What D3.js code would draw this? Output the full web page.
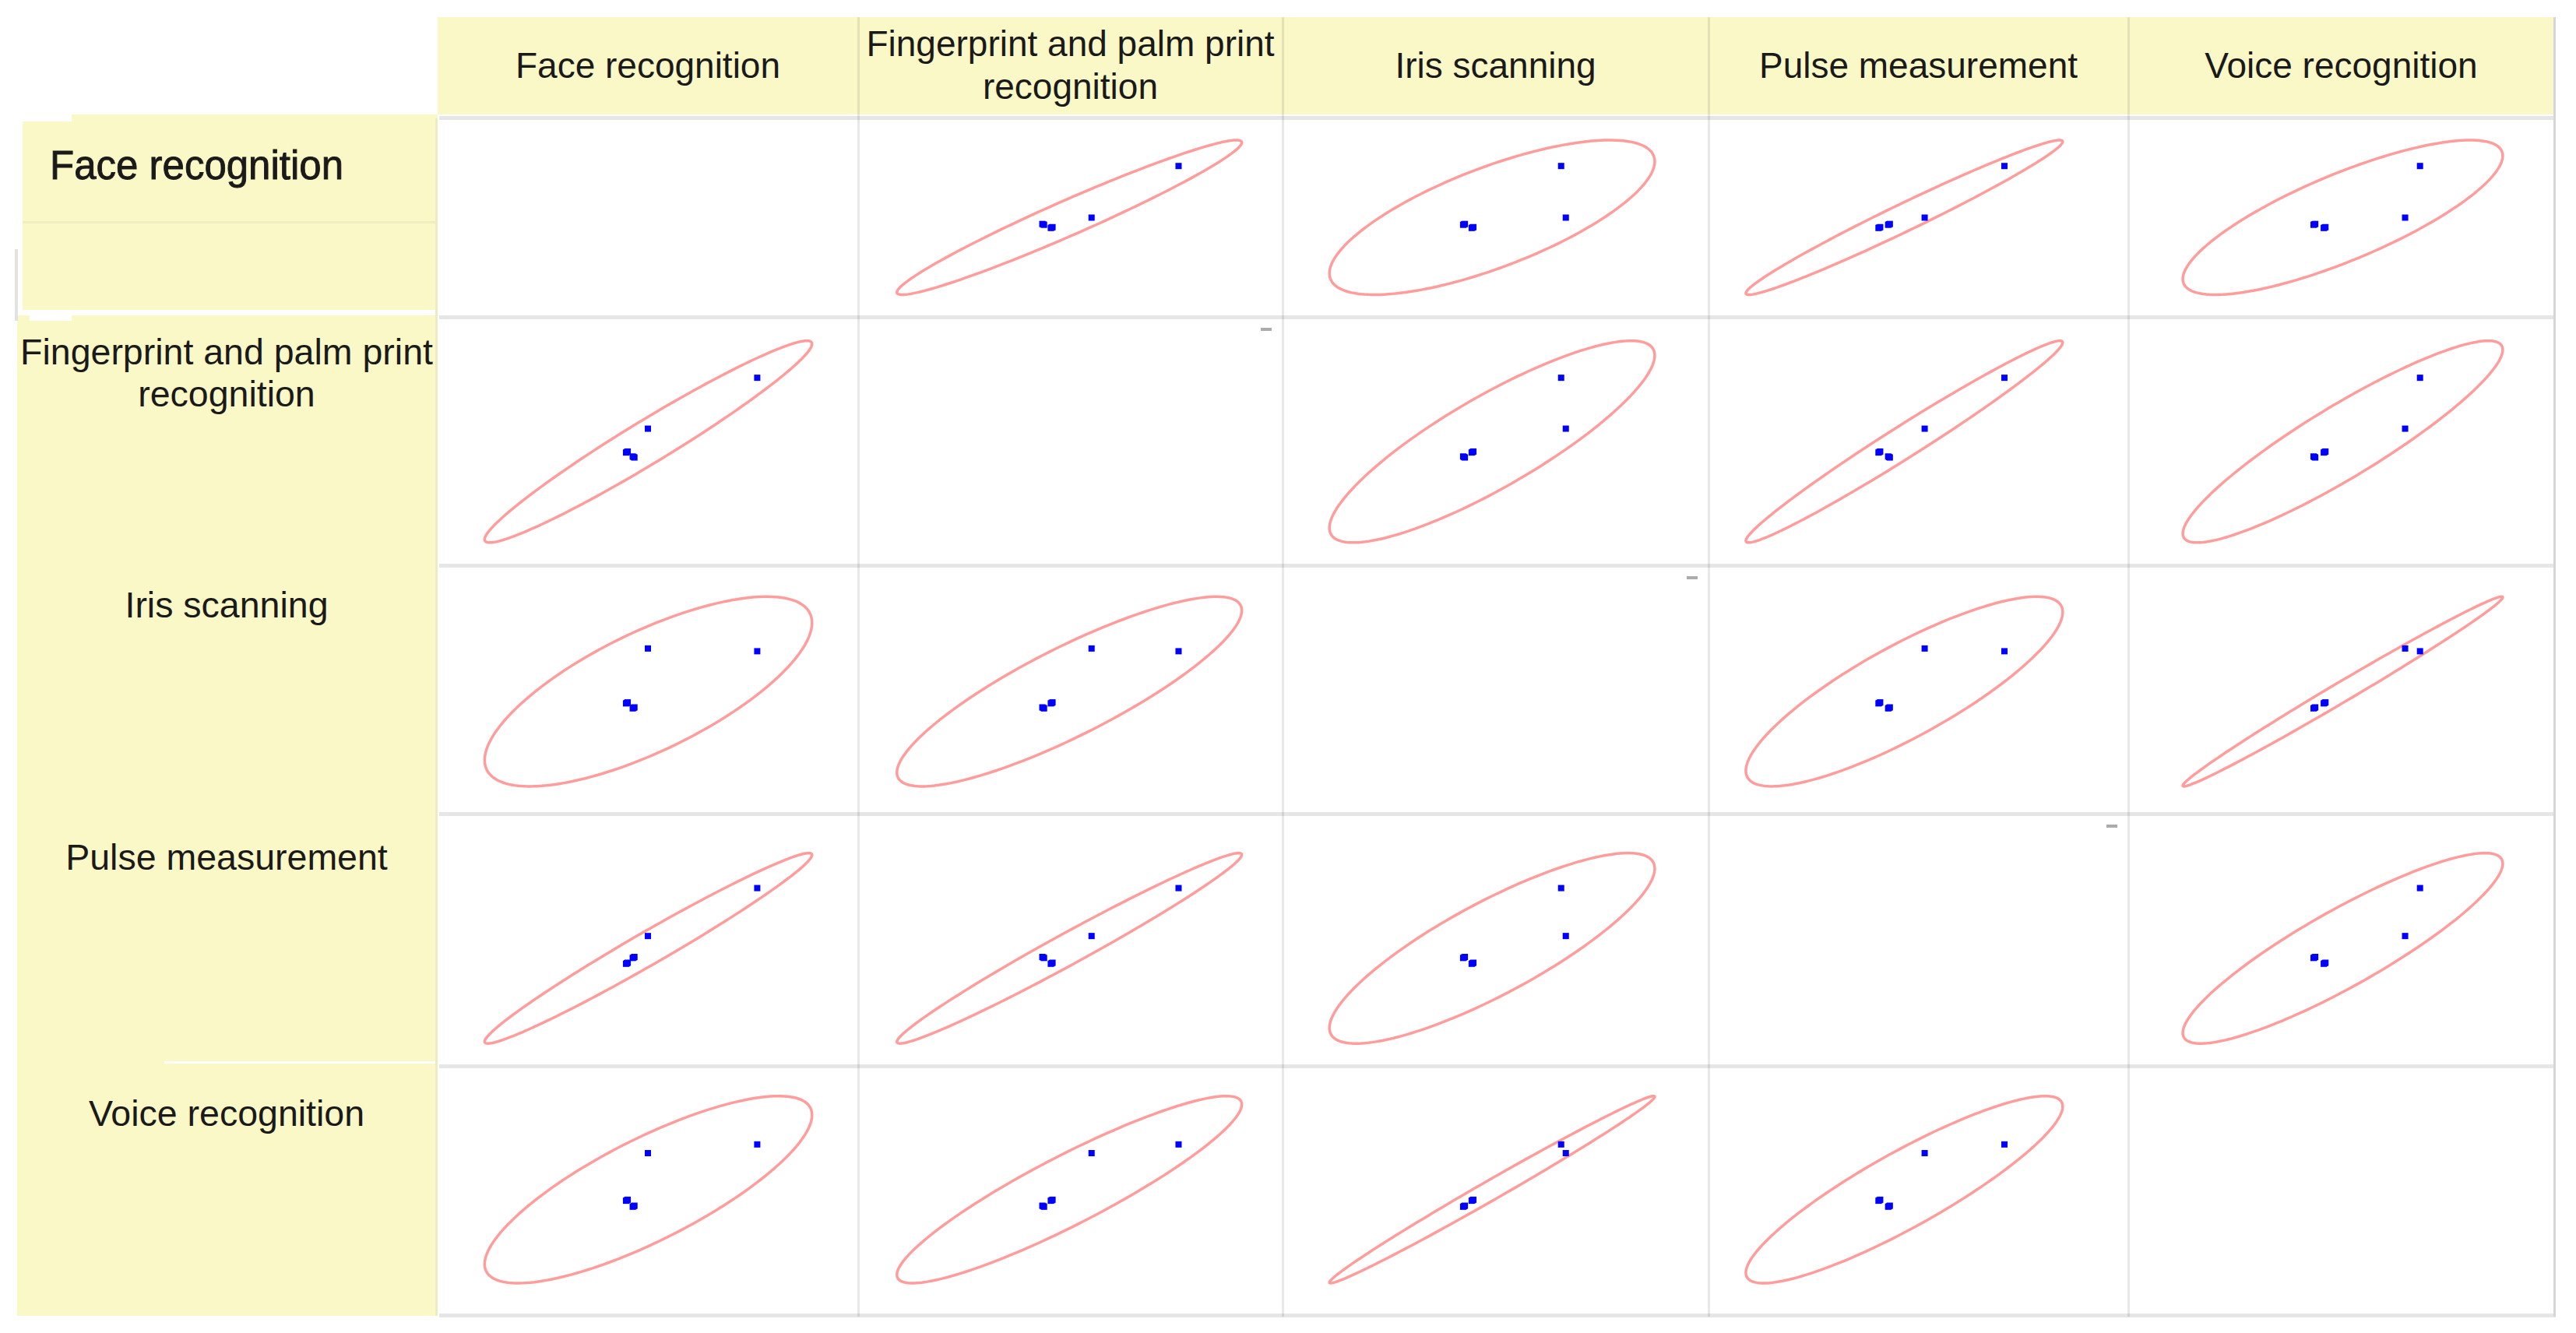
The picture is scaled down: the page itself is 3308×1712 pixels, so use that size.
<!DOCTYPE html>
<html>
<head>
<meta charset="utf-8">
<script src="https://cdn.jsdelivr.net/npm/d3@7"></script>
<style>
  body { margin: 0; background: #fff; }
  svg { display: block; font-family: "Liberation Sans", Arial, sans-serif; }
</style>
</head>
<body>
<div id="container"></div>
<script>
/* DATA */
const methods = ["Face recognition", "Fingerprint and palm print recognition", "Iris scanning", "Pulse measurement", "Voice recognition"];
const labelLines = [["Face recognition"], ["Fingerprint and palm print", "recognition"], ["Iris scanning"], ["Pulse measurement"], ["Voice recognition"]];

// scores of the 8 observations for each method (the last six sit on top of each other)
const faceScores        = [76.0, 50.0, 46.6, 46.8, 46.4, 45.0, 45.2, 44.8];
const fingerprintScores = [75.5, 55.0, 43.6, 43.4, 43.8, 45.6, 45.8, 45.4];
const irisScores        = [65.4, 66.5, 42.6, 42.8, 42.4, 44.6, 44.8, 44.4];
const pulseScores       = [70.5, 51.5, 43.0, 43.2, 42.8, 40.7, 40.9, 40.5];
const voiceScores       = [68.5, 65.0, 43.7, 43.9, 43.5, 46.1, 46.3, 45.9];
const scoreDomain = [0, 100];
const ellipseLevel = 0.95;

const series = [faceScores, fingerprintScores, irisScores, pulseScores, voiceScores];

/* LAYOUT */
const width = 3308, height = 1712;
const colEdges = [562, 1102, 1647, 2194, 2733, 3280];
const rowEdges = [152, 407, 726, 1045, 1369, 1689];
const yellow = "#faf8c7";
const gridGray = "#e6e6e6";

const svg = d3.select("#container")
  .append("svg")
  .attr("width", width)
  .attr("height", height);

svg.append("rect").attr("width", width).attr("height", height).attr("fill", "#fff");

// header band
svg.append("rect")
  .attr("x", colEdges[0]).attr("y", 22)
  .attr("width", colEdges[5] - colEdges[0]).attr("height", 125)
  .attr("fill", yellow);

// row label column
svg.append("rect").attr("x", 92).attr("y", 147).attr("width", 470).attr("height", 10).attr("fill", yellow);
svg.append("rect").attr("x", 29).attr("y", 156).attr("width", 533).attr("height", 242).attr("fill", yellow);
svg.append("rect").attr("x", 29).attr("y", 284).attr("width", 533).attr("height", 3).attr("fill", "#efedc2");
svg.append("rect").attr("x", 22).attr("y", 405).attr("width", 540).attr("height", 1285).attr("fill", yellow);
svg.append("rect").attr("x", 38).attr("y", 398).attr("width", 54).attr("height", 14).attr("fill", "#fff");
svg.append("rect").attr("x", 211).attr("y", 1363).attr("width", 355).attr("height", 3).attr("fill", "#fff");
svg.append("rect").attr("x", 19).attr("y", 320).attr("width", 4).attr("height", 92).attr("fill", "#e2e2e2");
svg.append("rect").attr("x", 559).attr("y", 152).attr("width", 3).attr("height", 1538).attr("fill", "#ecebc6");

// grid lines
svg.selectAll(".hline")
  .data(rowEdges)
  .join("rect")
  .attr("class", "hline")
  .attr("x", colEdges[0] + 2)
  .attr("y", (d, i) => i === 0 ? d - 3 : d - 2)
  .attr("width", colEdges[5] - colEdges[0])
  .attr("height", 5)
  .attr("fill", gridGray);

svg.selectAll(".vline")
  .data(colEdges.slice(1, 5))
  .join("rect")
  .attr("class", "vline")
  .attr("x", d => d - 1)
  .attr("y", 22)
  .attr("width", 3)
  .attr("height", rowEdges[5] - 20)
  .attr("fill", "rgba(0,0,0,0.09)");

svg.append("rect")
  .attr("x", colEdges[5] - 1).attr("y", 22)
  .attr("width", 3).attr("height", rowEdges[5] - 20)
  .attr("fill", "#d6d6d6");

/* HEADER TEXT */
const headers = svg.selectAll(".col-label")
  .data(labelLines)
  .join("text")
  .attr("class", "col-label")
  .attr("text-anchor", "middle")
  .attr("fill", "#1a1a1a")
  .style("font-size", "46px");

headers.each(function(lines, i) {
  const cx = (colEdges[i] + colEdges[i + 1]) / 2;
  const y0 = lines.length === 1 ? 100 : 72;
  d3.select(this).selectAll("tspan")
    .data(lines)
    .join("tspan")
    .attr("x", cx)
    .attr("y", (d, k) => y0 + k * 55)
    .text(d => d);
});

/* ROW LABELS */
const rowBaselines = [230, 468, 793, 1117, 1446];
const rowLabels = svg.selectAll(".row-label")
  .data(labelLines)
  .join("text")
  .attr("class", "row-label")
  .attr("text-anchor", (d, i) => i === 0 ? "start" : "middle")
  .attr("fill", "#1a1a1a")
  .attr("stroke", (d, i) => i === 0 ? "#1a1a1a" : "none")
  .attr("stroke-width", 0.9)
  .style("font-size", (d, i) => i === 0 ? "51px" : "46.5px");

rowLabels.each(function(lines, i) {
  const x = i === 0 ? 64 : 291;
  d3.select(this).selectAll("tspan")
    .data(lines)
    .join("tspan")
    .attr("x", x)
    .attr("y", (d, k) => rowBaselines[i] + k * 54)
    .text(d => d);
});

/* ELLIPSE FROM DATA (prediction ellipse) */
function predictionEllipse(xs, ys, level) {
  const n = xs.length;
  const mx = d3.mean(xs), my = d3.mean(ys);
  let sxx = 0, syy = 0, sxy = 0;
  for (let i = 0; i < n; i++) {
    const dx = xs[i] - mx, dy = ys[i] - my;
    sxx += dx * dx; syy += dy * dy; sxy += dx * dy;
  }
  sxx /= n - 1; syy /= n - 1; sxy /= n - 1;
  // F(2, n-2) quantile has a closed form
  const m = n - 2;
  const f = (m / 2) * (Math.pow(1 - level, -2 / m) - 1);
  const r = Math.sqrt(2 * (n - 1) * (n + 1) / (n * (n - 2)) * f);
  const half = (sxx + syy) / 2;
  const root = Math.sqrt(((sxx - syy) / 2) ** 2 + sxy * sxy);
  const a = Math.sqrt(half + root) * r;
  const b = Math.sqrt(Math.max(half - root, 0)) * r;
  const th = 0.5 * Math.atan2(2 * sxy, sxx - syy);
  return d3.range(0, 180).map(k => {
    const t = k / 180 * 2 * Math.PI;
    return [
      mx + a * Math.cos(th) * Math.cos(t) - b * Math.sin(th) * Math.sin(t),
      my + a * Math.sin(th) * Math.cos(t) + b * Math.cos(th) * Math.sin(t)
    ];
  });
}

/* CELLS */
methods.forEach((rowName, r) => {
  methods.forEach((colName, c) => {
    const g = svg.append("g").attr("class", "cell");
    if (r === c) {
      if (r >= 1 && r <= 3) {
        g.append("rect")
          .attr("x", colEdges[c + 1] - 28)
          .attr("y", rowEdges[r] + 14)
          .attr("width", 14).attr("height", 4)
          .attr("fill", "#ababab");
      }
      return;
    }
    const xScale = d3.scaleLinear().domain(scoreDomain).range([colEdges[c], colEdges[c + 1]]);
    const yScale = d3.scaleLinear().domain(scoreDomain).range([rowEdges[r + 1], rowEdges[r]]);
    const xs = series[c], ys = series[r];

    const line = d3.line()
      .x(d => xScale(d[0]))
      .y(d => yScale(d[1]))
      .curve(d3.curveLinearClosed);

    g.append("path")
      .attr("d", line(predictionEllipse(xs, ys, ellipseLevel)))
      .attr("fill", "none")
      .attr("stroke", "#ff9c9c")
      .attr("stroke-width", 3.5);

    g.selectAll("rect.pt")
      .data(d3.range(xs.length))
      .join("rect")
      .attr("class", "pt")
      .attr("x", i => xScale(xs[i]) - 4)
      .attr("y", i => yScale(ys[i]) - 4)
      .attr("width", 8)
      .attr("height", 8)
      .attr("fill", "#0000ff");
  });
});
</script>
</body>
</html>
